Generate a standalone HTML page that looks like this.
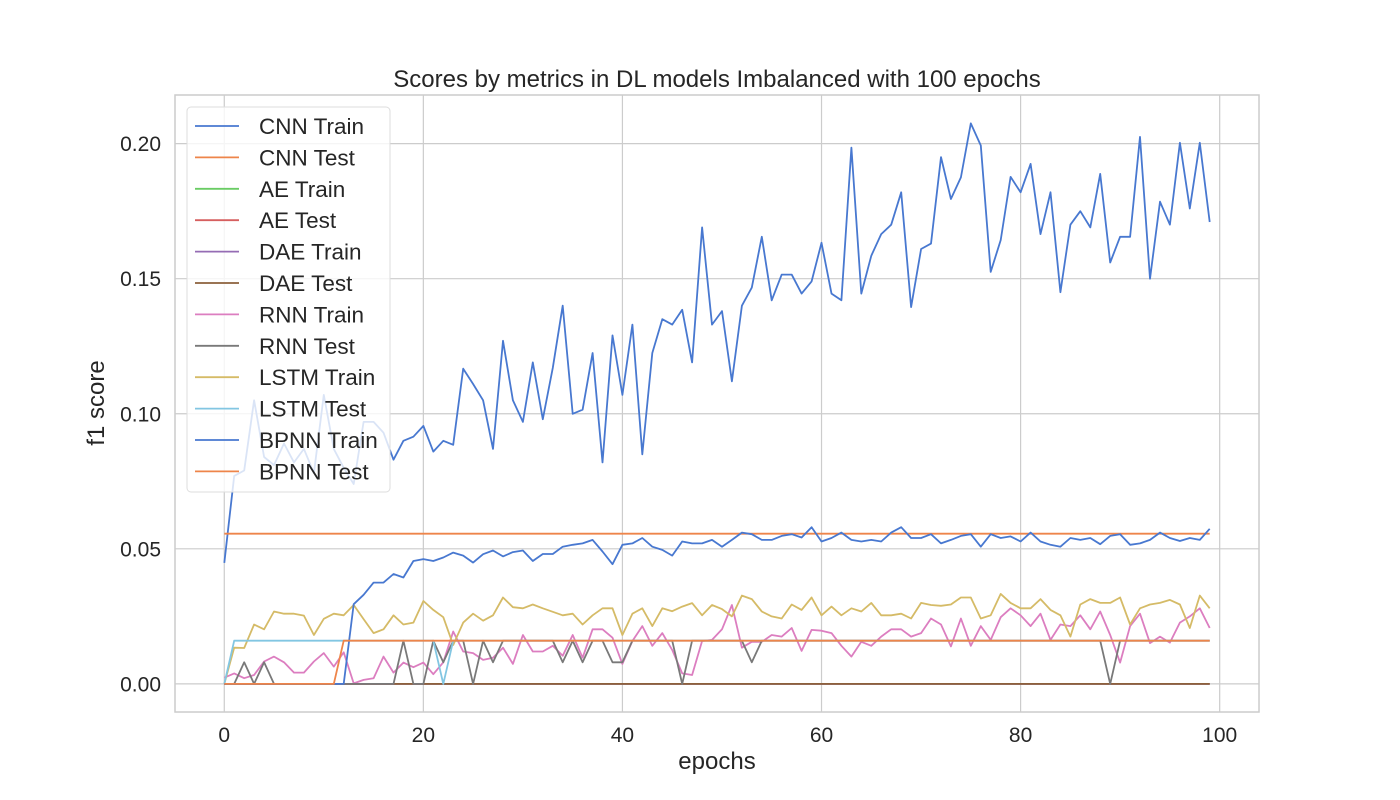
<!DOCTYPE html>
<html><head><meta charset="utf-8"><style>
body{margin:0;background:#fff;}
svg{display:block;font-family:"Liberation Sans","DejaVu Sans",sans-serif;}
</style></head><body>
<svg id="chart" width="1400" height="800" viewBox="0 0 1400 800" xmlns="http://www.w3.org/2000/svg">
<rect x="0" y="0" width="1400" height="800" fill="#fff"/>
<text x="717" y="87" font-size="24" text-anchor="middle" fill="#262626">Scores by metrics in DL models Imbalanced with 100 epochs</text>
<g id="grid"></g>
<g id="axes"></g>
<g id="series"></g>
<g id="legend"></g>
<text x="717" y="769" font-size="24" text-anchor="middle" fill="#262626">epochs</text>
<text x="104" y="403" font-size="24" text-anchor="middle" fill="#262626" transform="rotate(-90 104 403)">f1 score</text>
</svg>
<script>
const xTicks=[0,20,40,60,80,100];
const yTicks=[0,0.05,0.10,0.15,0.20];
const yTickLabels=["0.00","0.05","0.10","0.15","0.20"];
const seriesNames=["CNN Train","CNN Test","AE Train","AE Test","DAE Train","DAE Test","RNN Train","RNN Test","LSTM Train","LSTM Test","BPNN Train","BPNN Test"];
const seriesColors=["#4878d0","#ee854a","#6acc64","#d65f5f","#956cb4","#8c613c","#dc7ec0","#797979","#d5bb67","#82c6e2","#4878d0","#ee854a"];
const bpnnTrain=[0,0,0,0,0,0,0,0,0,0,0,0,0,0.0295,0.033,0.0375,0.0375,0.0407,0.0394,0.0455,0.0462,0.0455,0.0468,0.0486,0.0475,0.0449,0.048,0.0494,0.0472,0.0488,0.0494,0.0455,0.0481,0.0481,0.0508,0.0515,0.052,0.0533,0.049,0.0443,0.0515,0.052,0.054,0.0508,0.0496,0.0475,0.0527,0.052,0.052,0.0533,0.0508,0.0533,0.056,0.0554,0.0533,0.0533,0.0548,0.0554,0.0542,0.058,0.0527,0.054,0.056,0.0533,0.0527,0.0533,0.0527,0.056,0.058,0.054,0.054,0.0554,0.052,0.0533,0.0548,0.0554,0.0508,0.0554,0.054,0.0546,0.0527,0.056,0.0527,0.0515,0.0508,0.054,0.0533,0.054,0.0517,0.0548,0.0554,0.0515,0.052,0.0533,0.056,0.054,0.0529,0.054,0.0533,0.0574];
const bpnnTest=[0,0,0,0,0,0,0,0,0,0,0,0,0.016,0.016,0.016,0.016,0.016,0.016,0.016,0.016,0.016,0.016,0.016,0.016,0.016,0.016,0.016,0.016,0.016,0.016,0.016,0.016,0.016,0.016,0.016,0.016,0.016,0.016,0.016,0.016,0.016,0.016,0.016,0.016,0.016,0.016,0.016,0.016,0.016,0.016,0.016,0.016,0.016,0.016,0.016,0.016,0.016,0.016,0.016,0.016,0.016,0.016,0.016,0.016,0.016,0.016,0.016,0.016,0.016,0.016,0.016,0.016,0.016,0.016,0.016,0.016,0.016,0.016,0.016,0.016,0.016,0.016,0.016,0.016,0.016,0.016,0.016,0.016,0.016,0.016,0.016,0.016,0.016,0.016,0.016,0.016,0.016,0.016,0.016,0.016];
const zeroSeries=new Array(100).fill(0);
const rnnTrain=[0.0023,0.0039,0.0021,0.0033,0.0083,0.0101,0.008,0.0042,0.0042,0.0083,0.0114,0.0064,0.0117,0.0002,0.0015,0.0021,0.0101,0.0042,0.0079,0.0062,0.0079,0.0036,0.008,0.0194,0.012,0.0114,0.0089,0.0097,0.0134,0.0074,0.0181,0.012,0.012,0.0141,0.0104,0.0181,0.0097,0.0202,0.0202,0.0171,0.0074,0.0159,0.0214,0.0141,0.0188,0.0126,0.0039,0.0033,0.0159,0.0163,0.0202,0.0292,0.0134,0.0156,0.0156,0.0181,0.0175,0.0207,0.0122,0.02,0.0197,0.0188,0.0141,0.0101,0.0156,0.0141,0.0175,0.0202,0.0202,0.0175,0.0188,0.0242,0.022,0.0139,0.0242,0.0141,0.0214,0.0163,0.0247,0.028,0.0254,0.0214,0.026,0.0163,0.022,0.0214,0.0254,0.0202,0.0268,0.0181,0.0079,0.0214,0.026,0.0151,0.0175,0.0153,0.0227,0.025,0.028,0.0207];
const rnnTest=[0,0,0.008,0,0.008,0,0,0,0,0,0,0,0,0,0,0,0,0,0.016,0,0,0.016,0.008,0.016,0.016,0,0.016,0.008,0.016,0.016,0.016,0.016,0.016,0.016,0.008,0.016,0.008,0.016,0.016,0.008,0.008,0.016,0.016,0.016,0.016,0.016,0,0.016,0.016,0.016,0.016,0.016,0.016,0.008,0.016,0.016,0.016,0.016,0.016,0.016,0.016,0.016,0.016,0.016,0.016,0.016,0.016,0.016,0.016,0.016,0.016,0.016,0.016,0.016,0.016,0.016,0.016,0.016,0.016,0.016,0.016,0.016,0.016,0.016,0.016,0.016,0.016,0.016,0.016,0,0.016,0.016,0.016,0.016,0.016,0.016,0.016,0.016,0.016,0.016];
const lstmTrain=[0,0.0134,0.0133,0.022,0.0202,0.0268,0.026,0.026,0.0253,0.0181,0.0241,0.026,0.0254,0.0292,0.024,0.0188,0.0202,0.0254,0.022,0.0227,0.0307,0.0274,0.0247,0.0144,0.0227,0.026,0.0234,0.0254,0.032,0.0284,0.028,0.0294,0.028,0.0267,0.0254,0.026,0.022,0.0254,0.028,0.028,0.0181,0.026,0.028,0.0214,0.028,0.0269,0.0286,0.0299,0.0254,0.0292,0.0277,0.025,0.0327,0.0314,0.0268,0.025,0.0242,0.0294,0.0274,0.032,0.0254,0.0286,0.0254,0.028,0.0268,0.03,0.0254,0.0254,0.026,0.0242,0.03,0.0292,0.0289,0.0294,0.032,0.032,0.0242,0.0254,0.0333,0.03,0.028,0.028,0.0314,0.0274,0.0254,0.0175,0.0294,0.0314,0.03,0.03,0.032,0.022,0.028,0.0294,0.03,0.0311,0.0294,0.0207,0.0327,0.028];
const lstmTest=[0,0.016,0.016,0.016,0.016,0.016,0.016,0.016,0.016,0.016,0.016,0.016,0.016,0.016,0.016,0.016,0.016,0.016,0.016,0.016,0.016,0.016,0,0.016,0.016,0.016,0.016,0.016,0.016,0.016,0.016,0.016,0.016,0.016,0.016,0.016,0.016,0.016,0.016,0.016,0.016,0.016,0.016,0.016,0.016,0.016,0.016,0.016,0.016,0.016,0.016,0.016,0.016,0.016,0.016,0.016,0.016,0.016,0.016,0.016,0.016,0.016,0.016,0.016,0.016,0.016,0.016,0.016,0.016,0.016,0.016,0.016,0.016,0.016,0.016,0.016,0.016,0.016,0.016,0.016,0.016,0.016,0.016,0.016,0.016,0.016,0.016,0.016,0.016,0.016,0.016,0.016,0.016,0.016,0.016,0.016,0.016,0.016,0.016,0.016];
const cnnTrain=[0.0448,0.077,0.079,0.105,0.084,0.081,0.089,0.082,0.087,0.078,0.107,0.087,0.080,0.074,0.097,0.097,0.093,0.083,0.090,0.0915,0.0955,0.086,0.090,0.0885,0.1167,0.111,0.105,0.087,0.127,0.105,0.097,0.119,0.098,0.117,0.140,0.100,0.1015,0.1225,0.082,0.129,0.107,0.133,0.085,0.1225,0.135,0.133,0.1385,0.119,0.169,0.133,0.138,0.112,0.140,0.1467,0.1655,0.142,0.1515,0.1515,0.1445,0.149,0.1633,0.1445,0.142,0.1985,0.1445,0.1585,0.1665,0.170,0.182,0.1395,0.161,0.163,0.195,0.1795,0.1875,0.2075,0.1993,0.1525,0.1643,0.1877,0.182,0.1925,0.1665,0.182,0.145,0.170,0.175,0.169,0.1888,0.156,0.1655,0.1655,0.2025,0.150,0.1785,0.170,0.2003,0.176,0.2003,0.171];
const cnnTest=new Array(100).fill(0.0556);

const NS="http://www.w3.org/2000/svg";
const L=175,R=1259,T=95,B=712;
const xMin=-4.95,xMax=103.95,yMin=-0.0104,yMax=0.218;
function xs(v){return L+(v-xMin)/(xMax-xMin)*(R-L);}
function ys(v){return B-(v-yMin)/(yMax-yMin)*(B-T);}
function mk(tag,attrs,parent){const e=document.createElementNS(NS,tag);for(const k in attrs)e.setAttribute(k,attrs[k]);parent.appendChild(e);return e;}
const grid=document.getElementById('grid'),axes=document.getElementById('axes'),ser=document.getElementById('series'),leg=document.getElementById('legend');
xTicks.forEach(t=>{
  const l=mk('line',{x1:xs(t),x2:xs(t),y1:T,y2:B,stroke:'#cccccc','stroke-width':1.2},grid);
  
  
  const tx=mk('text',{x:xs(t),y:742,'font-size':21,'text-anchor':'middle',fill:'#262626'},axes);
  tx.textContent=t;
  
  
});
yTicks.forEach((t,i)=>{
  const l=mk('line',{x1:L,x2:R,y1:ys(t),y2:ys(t),stroke:'#cccccc','stroke-width':1.2},grid);
  
  
  const tx=mk('text',{x:161,y:ys(t)+7.5,'font-size':21,'text-anchor':'end',fill:'#262626'},axes);
  tx.textContent=yTickLabels[i];
  
  
});
const frame=mk('rect',{x:L,y:T,width:R-L,height:B-T,fill:'none',stroke:'#cccccc','stroke-width':1.5},axes);


const allSeries=[cnnTrain,cnnTest,zeroSeries,zeroSeries,zeroSeries,zeroSeries,rnnTrain,rnnTest,lstmTrain,lstmTest,bpnnTrain,bpnnTest];
allSeries.forEach((arr,si)=>{
  const pts=arr.map((v,i)=>xs(i).toFixed(1)+','+ys(v).toFixed(1)).join(' ');
  const p=mk('polyline',{points:pts,fill:'none',stroke:seriesColors[si],'stroke-width':1.8,'stroke-linejoin':'round'},ser);
  
  
});
const lb=mk('rect',{x:187,y:107,width:203,height:385,rx:4,fill:'#ffffff','fill-opacity':0.8,stroke:'#dddddd','stroke-width':1},leg);


seriesNames.forEach((n,i)=>{
  const y=126+i*31.4;
  const g=mk('g',{},leg);
  
  
  mk('line',{x1:195,x2:239,y1:y,y2:y,stroke:seriesColors[i],'stroke-width':1.8},g);
  const t=mk('text',{x:259,y:y+8,'font-size':22.5,fill:'#262626'},g);
  t.textContent=n;
});
</script>
</body></html>
